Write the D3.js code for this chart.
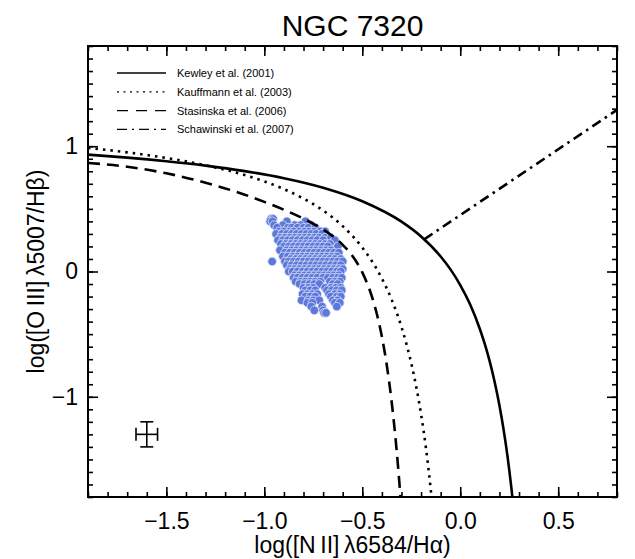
<!DOCTYPE html>
<html>
<head>
  <script src="https://d3js.org/d3.v7.min.js"></script>
  <style>
    body { margin: 0; background: #fff; }
    text { font-family: "Liberation Sans", Arial, sans-serif; fill: #000; }
  </style>
</head>
<body>
  <svg id="bpt"></svg>
  <script>
    // demarcation curves, [log NII/Ha, log OIII/Hb]
    const kewley = [[-1.9, 0.933], [-1.7, 0.909], [-1.5, 0.880], [-1.3, 0.845], [-1.1, 0.801], [-0.9, 0.745],
      [-0.7, 0.669], [-0.5, 0.561], [-0.3, 0.398], [-0.2, 0.280], [-0.1, 0.120], [-0.05, 0.017], [0.0, -0.108],
      [0.05, -0.262], [0.1, -0.459], [0.125, -0.578], [0.15, -0.716], [0.175, -0.878], [0.2, -1.069],
      [0.22, -1.250], [0.24, -1.462], [0.25, -1.583], [0.26, -1.715], [0.266, -1.800]]
    const kauffmann = [[-1.9, 0.987], [-1.7, 0.951], [-1.5, 0.906], [-1.3, 0.848], [-1.1, 0.770], [-0.9, 0.658],
      [-0.8, 0.582], [-0.7, 0.487], [-0.6, 0.362], [-0.5, 0.191], [-0.45, 0.080], [-0.4, -0.056], [-0.35, -0.225],
      [-0.3, -0.443], [-0.275, -0.577], [-0.25, -0.733], [-0.225, -0.918], [-0.2, -1.140], [-0.175, -1.411],
      [-0.16, -1.605], [-0.147, -1.796]]
    const stasinska = [[-1.9, 0.867], [-1.7, 0.836], [-1.5, 0.784], [-1.3, 0.709], [-1.1, 0.613], [-1.0, 0.556],
      [-0.9, 0.493], [-0.8, 0.422], [-0.75, 0.381], [-0.7, 0.335], [-0.65, 0.281], [-0.6, 0.213], [-0.55, 0.123],
      [-0.5, -0.007], [-0.45, -0.205], [-0.425, -0.343], [-0.4, -0.521], [-0.375, -0.748], [-0.35, -1.042],
      [-0.325, -1.422], [-0.31, -1.702], [-0.305, -1.805]]
    const schawinski = [[-0.184, 0.257], [0.8, 1.29]]

    const curveNames = ["Kewley et al. (2001)", "Kauffmann et al. (2003)", "Stasinska et al. (2006)", "Schawinski et al. (2007)"]
    const curveDash = ["none", "2.5,5", "12,7", "10,5,2.5,5"]

    // spaxel line ratios, row by row
    const spaxelRows = [
      [0.42, [-0.965, -0.955]],
      [0.40, [-0.970, -0.958, -0.885, -0.790]],
      [0.37, [-0.950, -0.905, -0.845, -0.815, -0.760]],
      [0.35, [-0.935, -0.880, -0.860, -0.830, -0.800, -0.775, -0.740]],
      [0.32, [-0.925, -0.900, -0.870, -0.850, -0.820, -0.795, -0.770, -0.745, -0.715, -0.690]],
      [0.30, [-0.940, -0.910, -0.885, -0.860, -0.835, -0.810, -0.785, -0.760, -0.735, -0.705]],
      [0.27, [-0.920, -0.895, -0.870, -0.845, -0.820, -0.795, -0.770, -0.745, -0.720, -0.690, -0.660]],
      [0.25, [-0.930, -0.905, -0.880, -0.855, -0.830, -0.805, -0.780, -0.755, -0.730, -0.700, -0.640]],
      [0.22, [-0.915, -0.890, -0.865, -0.840, -0.815, -0.790, -0.765, -0.740, -0.715, -0.690, -0.665]],
      [0.20, [-0.900, -0.875, -0.850, -0.825, -0.800, -0.775, -0.750, -0.725, -0.700, -0.675, -0.625]],
      [0.17, [-0.920, -0.885, -0.860, -0.835, -0.810, -0.785, -0.760, -0.735, -0.710, -0.685, -0.660]],
      [0.15, [-0.895, -0.870, -0.845, -0.820, -0.795, -0.770, -0.745, -0.720, -0.695, -0.670, -0.645, -0.620]],
      [0.12, [-0.905, -0.880, -0.855, -0.830, -0.805, -0.780, -0.755, -0.730, -0.705, -0.680, -0.655, -0.630]],
      [0.10, [-0.865, -0.840, -0.815, -0.790, -0.765, -0.740, -0.715, -0.690, -0.665, -0.640, -0.610]],
      [0.08, [-0.960, -0.895, -0.875, -0.850, -0.825, -0.800, -0.775, -0.750, -0.725, -0.700, -0.675, -0.650, -0.625, -0.600]],
      [0.05, [-0.885, -0.860, -0.835, -0.810, -0.785, -0.760, -0.735, -0.710, -0.685, -0.660, -0.635, -0.610]],
      [0.02, [-0.870, -0.845, -0.820, -0.795, -0.770, -0.745, -0.720, -0.695, -0.670, -0.645, -0.620, -0.600]],
      [0.00, [-0.875, -0.855, -0.830, -0.805, -0.780, -0.755, -0.730, -0.705, -0.680, -0.655, -0.630, -0.610]],
      [-0.03, [-0.845, -0.820, -0.795, -0.770, -0.745, -0.720, -0.695, -0.670, -0.645, -0.620]],
      [-0.05, [-0.850, -0.830, -0.805, -0.780, -0.755, -0.730, -0.700, -0.675, -0.650, -0.625, -0.605]],
      [-0.08, [-0.840, -0.815, -0.790, -0.765, -0.740, -0.715, -0.665, -0.640, -0.615]],
      [-0.10, [-0.820, -0.795, -0.770, -0.745, -0.720, -0.650, -0.625]],
      [-0.13, [-0.800, -0.775, -0.750, -0.690, -0.660, -0.635, -0.610]],
      [-0.15, [-0.790, -0.765, -0.740, -0.680, -0.655, -0.630, -0.605]],
      [-0.18, [-0.805, -0.780, -0.755, -0.730, -0.670, -0.640, -0.615]],
      [-0.20, [-0.790, -0.765, -0.740, -0.660, -0.630, -0.610]],
      [-0.23, [-0.810, -0.775, -0.750, -0.720, -0.650, -0.625]],
      [-0.25, [-0.780, -0.755, -0.640, -0.615]],
      [-0.28, [-0.760, -0.705, -0.630]],
      [-0.31, [-0.745, -0.700]],
      [-0.33, [-0.695, -0.685]]
    ]

    // typical error bar
    const errPoint = { x: -1.60, y: -1.30, dx: 0.055, dy: 0.10 }

    const xMajor = [-1.5, -1.0, -0.5, 0.0, 0.5]
    const yMajor = [-1, 0, 1]

    const svgwidth = 635, svgheight = 559
    const margin = { top: 46, right: 18, bottom: 62, left: 88 }
    const width = svgwidth - margin.left - margin.right
    const height = svgheight - margin.top - margin.bottom

    const svg = d3.select("#bpt").attr("width", svgwidth).attr("height", svgheight)

    const x = d3.scaleLinear().domain([-1.9, 0.8]).range([0, width])
    const y = d3.scaleLinear().domain([-1.8, 1.8]).range([height, 0])

    const g = svg.append("g").attr("transform", `translate(${margin.left},${margin.top})`)

    g.append("clipPath").attr("id", "clip")
      .append("rect").attr("width", width).attr("height", height)

    // spaxels
    const spaxels = []
    spaxelRows.forEach(r => r[1].forEach(v => spaxels.push([v, r[0]])))

    g.append("g")
      .selectAll("circle")
      .data(spaxels)
      .enter()
      .append("circle")
      .attr("cx", d => x(d[0]))
      .attr("cy", d => y(d[1]))
      .attr("r", 4.3)
      .attr("fill", "#5b78da")
      .attr("stroke", "#dfe5f8")
      .attr("stroke-width", 0.8)

    // curves
    const line = d3.line().x(d => x(d[0])).y(d => y(d[1])).curve(d3.curveMonotoneX)
    const curves = [kewley, kauffmann, stasinska, schawinski]

    g.append("g").attr("clip-path", "url(#clip)")
      .selectAll("path")
      .data(curves)
      .enter()
      .append("path")
      .attr("d", line)
      .attr("fill", "none")
      .attr("stroke", "#000")
      .attr("stroke-width", 2.6)
      .attr("stroke-dasharray", (d, i) => curveDash[i])

    // error bar
    const eb = g.append("g").attr("stroke", "#000").attr("stroke-width", 1.6)
    const cap = 6.5
    eb.append("line")
      .attr("x1", x(errPoint.x - errPoint.dx)).attr("x2", x(errPoint.x + errPoint.dx))
      .attr("y1", y(errPoint.y)).attr("y2", y(errPoint.y))
    eb.append("line")
      .attr("x1", x(errPoint.x)).attr("x2", x(errPoint.x))
      .attr("y1", y(errPoint.y - errPoint.dy)).attr("y2", y(errPoint.y + errPoint.dy))
    eb.selectAll(".capx")
      .data([errPoint.x - errPoint.dx, errPoint.x + errPoint.dx])
      .enter().append("line")
      .attr("x1", d => x(d)).attr("x2", d => x(d))
      .attr("y1", y(errPoint.y) - cap).attr("y2", y(errPoint.y) + cap)
    eb.selectAll(".capy")
      .data([errPoint.y - errPoint.dy, errPoint.y + errPoint.dy])
      .enter().append("line")
      .attr("x1", x(errPoint.x) - cap).attr("x2", x(errPoint.x) + cap)
      .attr("y1", d => y(d)).attr("y2", d => y(d))

    // axes, ticks pointing inward on all four sides
    const xMinor = d3.range(-19, 9).map(v => v / 10)
    const yMinor = d3.range(-18, 19).map(v => v / 10)

    function styleAxis(sel) {
      sel.select(".domain").remove()
      sel.selectAll(".tick line").attr("stroke", "#000").attr("stroke-width", 1.6)
      sel.selectAll("text").style("font-family", "Liberation Sans, Arial, sans-serif").style("font-size", "23px")
    }

    g.append("g").attr("transform", `translate(0,${height})`)
      .call(d3.axisBottom(x).tickValues(xMinor).tickSize(-5).tickFormat(""))
      .call(styleAxis)
    g.append("g").attr("transform", `translate(0,${height})`)
      .call(d3.axisBottom(x).tickValues(xMajor).tickSize(-10).tickPadding(16).tickFormat(d3.format(".1f")))
      .call(styleAxis)
    g.append("g")
      .call(d3.axisTop(x).tickValues(xMinor).tickSize(-5).tickFormat(""))
      .call(styleAxis)
    g.append("g")
      .call(d3.axisTop(x).tickValues(xMajor).tickSize(-10).tickFormat(""))
      .call(styleAxis)

    g.append("g")
      .call(d3.axisLeft(y).tickValues(yMinor).tickSize(-5).tickFormat(""))
      .call(styleAxis)
    g.append("g")
      .call(d3.axisLeft(y).tickValues(yMajor).tickSize(-10).tickPadding(10).tickFormat(d3.format("d")))
      .call(styleAxis)
    g.append("g").attr("transform", `translate(${width},0)`)
      .call(d3.axisRight(y).tickValues(yMinor).tickSize(-5).tickFormat(""))
      .call(styleAxis)
    g.append("g").attr("transform", `translate(${width},0)`)
      .call(d3.axisRight(y).tickValues(yMajor).tickSize(-10).tickFormat(""))
      .call(styleAxis)

    g.append("rect")
      .attr("width", width).attr("height", height)
      .attr("fill", "none").attr("stroke", "#000").attr("stroke-width", 2)

    // legend
    const legend = g.append("g").attr("transform", "translate(29,27)")
    curveNames.forEach((name, i) => {
      legend.append("line")
        .attr("x1", 0).attr("x2", 49)
        .attr("y1", i * 18.8).attr("y2", i * 18.8)
        .attr("stroke", "#000").attr("stroke-width", 1.3)
        .attr("stroke-dasharray", i == 0 ? "none" : ["", "2,4.5", "11,8", "10,5,2,5"][i])
      legend.append("text")
        .attr("x", 60).attr("y", i * 18.8 + 4)
        .style("font-size", "11px")
        .text(name)
    })

    // titles
    svg.append("text")
      .attr("x", margin.left + width / 2).attr("y", 36)
      .attr("text-anchor", "middle")
      .style("font-size", "30px")
      .text("NGC 7320")

    svg.append("text")
      .attr("x", margin.left + width / 2).attr("y", 553)
      .attr("text-anchor", "middle")
      .style("font-size", "23px")
      .text("log([N\u2009II]\u2009λ6584/Hα)")

    svg.append("text")
      .attr("transform", `translate(44,${margin.top + height / 2}) rotate(-90)`)
      .attr("text-anchor", "middle")
      .style("font-size", "23px")
      .text("log([O\u2009III]\u2009λ5007/Hβ)")
  </script>
</body>
</html>
